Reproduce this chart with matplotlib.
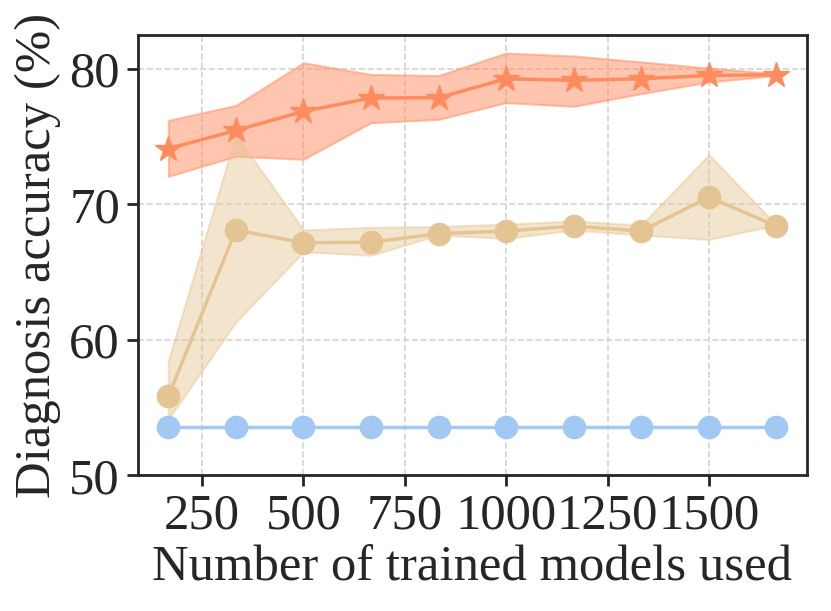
import numpy as np
import matplotlib
matplotlib.use('Agg')
import matplotlib.pyplot as plt

plt.rcParams['font.family'] = ['Liberation Serif', 'DejaVu Serif']

n_models = [166.7, 333.3, 500.0, 666.7, 833.3, 1000.0, 1166.7, 1333.3, 1500.0, 1666.7]

# orange (stars)
ens_mean = [74.1, 75.45, 76.85, 77.84, 77.86, 79.26, 79.14, 79.26, 79.5, 79.56]
ens_upper = [76.19, 77.3, 80.44, 79.58, 79.5, 81.16, 80.94, 80.5, 80.05, 79.63]
ens_lower = [72.06, 73.54, 73.32, 76.02, 76.26, 77.5, 77.22, 78.16, 79.02, 79.5]

# tan (circles)
avg_mean = [55.83, 68.1, 67.16, 67.2, 67.83, 68.02, 68.39, 68.02, 70.52, 68.39]
avg_upper = [58.47, 75.13, 68.1, 68.3, 68.35, 68.54, 68.76, 68.47, 73.65, 68.47]
avg_lower = [54.15, 61.31, 66.5, 66.24, 67.73, 67.48, 68.1, 67.73, 67.4, 68.47]

# blue (baseline)
base = [53.54] * 10

c_orange = '#FF8C5E'
c_tan = '#E5C494'
c_blue = '#A1C9F4'
txt = '#262626'

fig, ax = plt.subplots(figsize=(8.31, 6.11), dpi=100)

ax.fill_between(n_models, ens_lower, ens_upper, color=c_orange, alpha=0.5,
                edgecolor=c_orange, linewidth=1.5, zorder=2)
ax.plot(n_models, ens_mean, color=c_orange, marker='*', markersize=19,
        linewidth=2.5, zorder=4)

ax.fill_between(n_models, avg_lower, avg_upper, color=c_tan, alpha=0.45,
                edgecolor=c_tan, linewidth=1.5, zorder=2)
ax.plot(n_models, avg_mean, color=c_tan, marker='o', markersize=16,
        linewidth=2.5, zorder=4)

ax.plot(n_models, base, color=c_blue, marker='o', markersize=16,
        linewidth=2.5, zorder=4)

ax.set_ylim(50, 82.5)
ax.set_yticks([50, 60, 70, 80])
ax.set_xticks([250, 500, 750, 1000, 1250, 1500])
ax.grid(True, linestyle='--', color='#d4d4d4', linewidth=1.2, zorder=0)
ax.set_axisbelow(True)

for s in ax.spines.values():
    s.set_linewidth(2)
    s.set_edgecolor(txt)
ax.tick_params(axis='both', labelsize=36.5, colors=txt, width=2, length=8,
               direction='out', pad=5)
ax.set_xlabel('Number of trained models used', fontsize=36.5, color=txt,
              labelpad=4)
ax.set_ylabel('Diagnosis accuracy (%)', fontsize=36.5, color=txt, labelpad=6)

fig.subplots_adjust(left=0.166, right=0.971, top=0.943, bottom=0.222)
fig.savefig('out.png', dpi=100)
